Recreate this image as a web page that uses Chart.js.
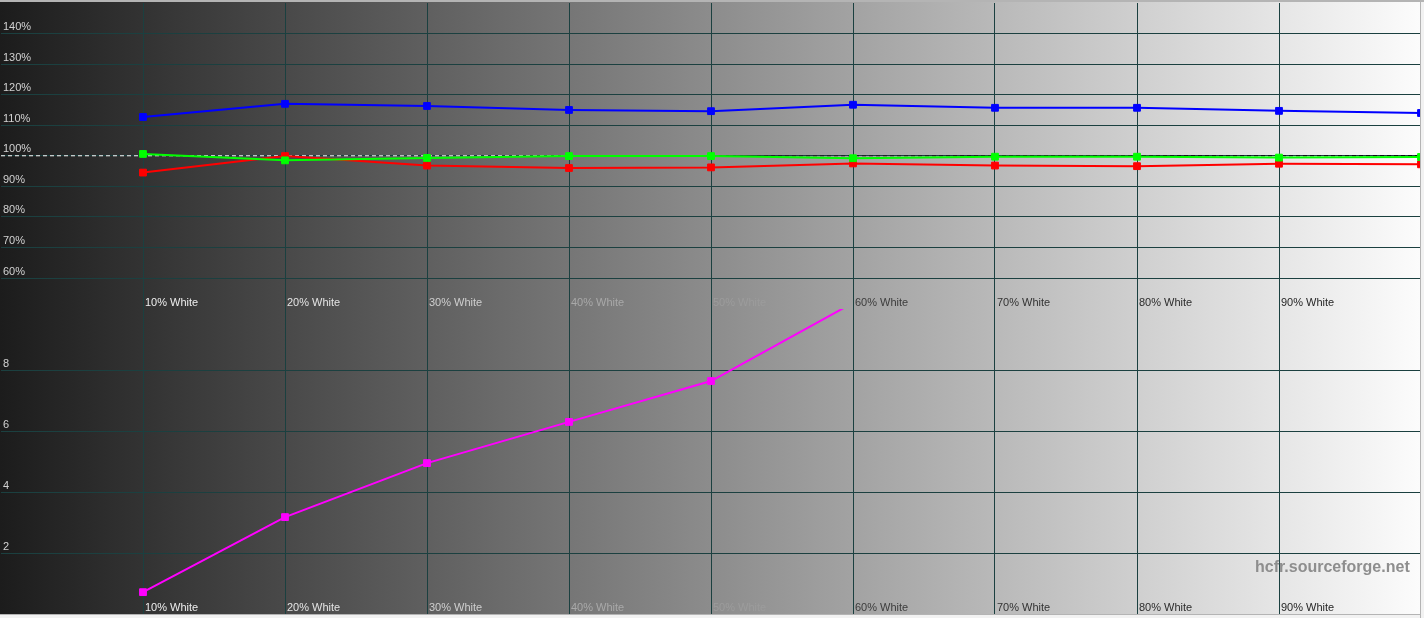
<!DOCTYPE html>
<html>
<head>
<meta charset="utf-8">
<title>RGB levels / deltaE</title>
<script src="https://cdn.jsdelivr.net/npm/chart.js@4.4.1/dist/chart.umd.min.js"></script>
<style>
  html, body { margin: 0; padding: 0; background: #f2f2f2; overflow: hidden; }
  #plot {
    position: absolute; left: 0; top: 0; width: 1420px; height: 614px; overflow: hidden;
    background: linear-gradient(to right, #1c1c1c, #fcfcfc);
  }
  #top-wrap { position: absolute; left: 0; top: 0; width: 1424px; height: 309px; }
  #bottom-wrap { position: absolute; left: 0; top: 307px; width: 1424px; height: 311px; }
  .frame { position: absolute; background: #b4b4b4; }
  #watermark {
    position: absolute; left: 1255px; top: 558px;
    font: bold 16px "Liberation Sans", Arial, sans-serif; line-height: 18px; color: #8e8e8e;
  }
</style>
</head>
<body>
<div id="plot">
  <div id="top-wrap"><canvas id="levels-chart"></canvas></div>
  <div id="bottom-wrap"><canvas id="delta-chart"></canvas></div>
  <div id="watermark">hcfr.sourceforge.net</div>
</div>
<div class="frame" style="left:0;top:0;width:1424px;height:2px;"></div>
<div class="frame" style="left:1420px;top:0;width:1px;height:618px;"></div>
<div class="frame" style="left:0;top:614px;width:1421px;height:1px;"></div>

<script>
// grey steps measured (% stimulus)
const levels = [10, 20, 30, 40, 50, 60, 70, 80, 90, 100];
const levelLabels = ["10% White", "20% White", "30% White", "40% White", "50% White",
                     "60% White", "70% White", "80% White", "90% White"];
// label colours follow the background brightness
const levelLabelColors = ["#eeeeee", "#e4e4e4", "#cfcfcf", "#a9a9a9", "#9c9c9c",
                          "#3c3c3c", "#333333", "#2c2c2c", "#262626"];

// RGB levels, % of reference
const redLevels   = [94.5, 99.9, 96.8, 96.0, 96.2, 97.5, 96.8, 96.6, 97.4, 97.2];
const greenLevels = [100.6, 98.5, 99.3, 99.9, 99.9, 99.2, 99.7, 99.7, 99.4, 99.6];
const blueLevels  = [112.7, 117.0, 116.3, 115.0, 114.6, 116.7, 115.7, 115.7, 114.7, 114.0];

// reference line at 100%
const refX = [0, 100];
const refY = [100, 100];

// deltaE per step (60% runs off the top of the panel)
const deltaE = [0.72, 3.18, 4.95, 6.3, 7.64, 10.2, null, null, null, null];

const percentTicks = [60, 70, 80, 90, 100, 110, 120, 130, 140];
const deltaTicks = [2, 4, 6, 8];
// lower panel: the step labels sit over the bottom strip, so its plot area stops a bit above 0
const deltaFloor = 0.43;

const FONT = { family: "'Liberation Sans', Arial, sans-serif", size: 11 };
const GRID = "#1b4040";

function toPoints(xs, ys) {
  return xs.map((x, i) => ({ x: x, y: ys[i] }));
}

function levelLabel(value) {
  const i = levels.indexOf(value);
  return i >= 0 && i < levelLabels.length ? levelLabels[i] : null;
}

function levelColor(ctx) {
  const i = levels.indexOf(ctx.tick.value);
  return i >= 0 && i < levelLabelColors.length ? levelLabelColors[i] : "#888";
}

function lineStyle(color) {
  return {
    borderColor: color,
    backgroundColor: color,
    borderWidth: 2,
    pointStyle: "rect",
    pointRadius: 4.8,
    pointBorderWidth: 1,
    pointBackgroundColor: color,
    pointBorderColor: color,
    tension: 0,
    fill: false,
  };
}

// dashed 100% line: light on the dark side, dark on the light side
function refColor(c) {
  const area = c.chart.chartArea;
  if (!area) return "#ffffff";
  const g = c.chart.ctx.createLinearGradient(area.left, 0, area.right, 0);
  g.addColorStop(0, "#ffffff");
  g.addColorStop(0.42, "#e8e8e8");
  g.addColorStop(0.54, "#202020");
  g.addColorStop(1, "#000000");
  return g;
}

function xAxis(tickLength, height) {
  return {
    type: "linear",
    min: 0,
    max: 100,
    border: { display: false },
    grid: {
      color: GRID,
      lineWidth: 1,
      drawTicks: true,
      tickLength: tickLength,
    },
    ticks: {
      stepSize: 10,
      autoSkip: false,
      maxRotation: 0,
      align: "start",
      labelOffset: 2,
      padding: -13,
      font: FONT,
      color: levelColor,
      callback: v => levelLabel(v),
    },
    afterFit: s => { s.height = height; },
  };
}

function yAxis(min, max, step, shown, fmt) {
  return {
    min: min,
    max: max,
    border: { display: false },
    grid: { color: GRID, lineWidth: 1, drawTicks: false },
    ticks: {
      stepSize: step,
      mirror: true,
      align: "start",
      padding: 2,
      labelOffset: -12,
      font: FONT,
      color: "#d2d2d2",
      callback: v => (shown.includes(v) ? fmt(v) : null),
    },
    afterFit: s => { s.width = 0; },
  };
}

Chart.defaults.animation = false;

new Chart(document.getElementById("levels-chart"), {
  type: "line",
  data: {
    datasets: [
      { label: "Green", data: toPoints(levels, greenLevels), ...lineStyle("#00ff00") },
      { label: "Red", data: toPoints(levels, redLevels), ...lineStyle("#ff0000") },
      { label: "Blue", data: toPoints(levels, blueLevels), ...lineStyle("#0000ff") },
      {
        label: "Reference",
        data: toPoints(refX, refY),
        borderColor: refColor,
        borderWidth: 1,
        borderDash: [4, 3],
        pointRadius: 0,
        fill: false,
      },
    ],
  },
  options: {
    responsive: true,
    maintainAspectRatio: false,
    layout: { autoPadding: false, padding: { left: 1, right: 3, top: 3, bottom: 0 } },
    plugins: { legend: { display: false }, tooltip: { enabled: false } },
    scales: {
      x: xAxis(31, 31),
      y: yAxis(60, 150, 10, percentTicks, v => v + "%"),
    },
  },
});

new Chart(document.getElementById("delta-chart"), {
  type: "line",
  data: {
    datasets: [
      { label: "deltaE", data: toPoints(levels, deltaE), clip: 0, ...lineStyle("#ff00ff") },
    ],
  },
  options: {
    responsive: true,
    maintainAspectRatio: false,
    layout: { autoPadding: false, padding: { left: 1, right: 3, top: 2, bottom: 0 } },
    plugins: { legend: { display: false }, tooltip: { enabled: false } },
    scales: {
      x: xAxis(13, 17),
      y: yAxis(deltaFloor, 10, 2, deltaTicks, v => String(v)),
    },
  },
});
</script>
</body>
</html>
